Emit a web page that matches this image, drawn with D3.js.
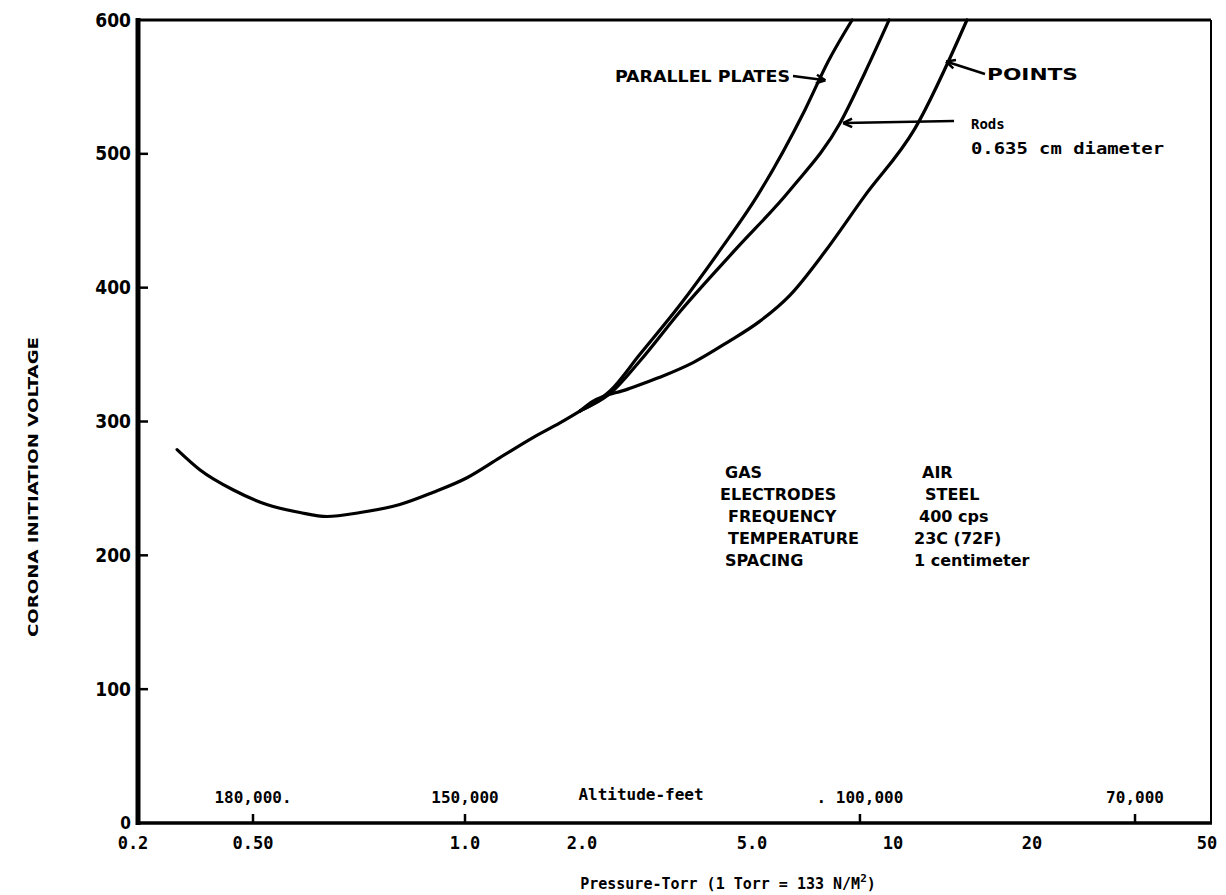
<!DOCTYPE html>
<html><head><meta charset="utf-8">
<script src="https://cdn.jsdelivr.net/npm/d3@7"></script>
<style>body{margin:0;background:#fff}</style>
</head><body><svg id="c" width="1226" height="895"></svg>
<script>
// ---- data ----
const pressureTicks = [0.2, 0.5, 1, 2, 5, 10, 20, 50];
const pressureTickLabels = ["0.2", "0.50", "1.0", "2.0", "5.0", "10", "20", "50"];
const voltageTicks = [0, 100, 200, 300, 400, 500, 600];
const altitudePressures = [0.5, 1.0, 8.5, 34.3];
const altitudeLabels = ["180,000.", "150,000", ". 100,000", "70,000"];

const commonP = [0.28, 0.333, 0.429, 0.523, 0.583, 0.637, 0.71, 0.808, 0.90, 1.012, 1.23, 1.496, 1.755, 1.98];
const commonV = [279, 264, 249, 238, 232, 229, 232, 238, 247, 258, 273, 288, 299, 308];
const platesP = [1.98, 2.33, 2.73, 3.39, 4.21, 5.12, 6.49, 7.27, 8.18];
const platesV = [308, 323, 350, 387, 428, 468, 533, 569, 600];
const rodsP = [1.98, 2.33, 2.73, 3.39, 4.56, 6.03, 7.71, 8.72, 9.81];
const rodsV = [308, 321, 345, 382, 428, 473, 523, 561, 600];
const pointsP = [1.98, 2.12, 2.55, 3.04, 3.64, 4.37, 5.2, 6.03, 7.16, 8.68, 11.16, 14.46];
const pointsV = [308, 315, 324, 333, 344, 359, 375, 394.5, 427, 468, 519, 600];

const infoKeys = ["GAS", "ELECTRODES", "FREQUENCY", "TEMPERATURE", "SPACING"];
const infoVals = ["AIR", "STEEL", "400 cps", "23C (72F)", "1 centimeter"];

// ---- scales ----
const svg = d3.select("#c");
const x = d3.scaleLog().domain(pressureTicks).range([133, 253, 465, 582, 752, 893, 1032, 1207]);
const y = d3.scaleLinear().domain([0, 600]).range([823, 20]);
const pts = (P, V) => P.map((p, i) => [p, V[i]]);
const line = d3.line().x(d => x(d[0])).y(d => y(d[1])).curve(d3.curveMonotoneX);

// frame
const x0 = x(0.2) + 5, x1 = x(50) + 4;
svg.append("line").attr("x1", x0).attr("x2", x1).attr("y1", y(600)).attr("y2", y(600))
  .attr("stroke", "#000").attr("stroke-width", 3);
svg.append("line").attr("x1", x1).attr("x2", x1).attr("y1", y(600)).attr("y2", y(0))
  .attr("stroke", "#000").attr("stroke-width", 2);

// y axis
const yAxis = svg.append("g").attr("transform", `translate(${x0},0)`);
yAxis.append("line").attr("y1", y(600) - 2).attr("y2", y(0) + 2).attr("stroke", "#000").attr("stroke-width", 5);
yAxis.selectAll("line.t").data(voltageTicks.filter(v => v > 0 && v < 600)).enter().append("line")
  .attr("class", "t").attr("x1", 0).attr("x2", 10).attr("y1", d => y(d)).attr("y2", d => y(d))
  .attr("stroke", "#000").attr("stroke-width", 2.5);
yAxis.selectAll("text").data(voltageTicks).enter().append("text")
  .attr("x", -7).attr("y", d => y(d)).attr("dy", "0.35em").attr("text-anchor", "end")
  .attr("font-family", "DejaVu Sans Condensed").attr("font-weight", "bold").attr("font-size", d => d === 0 ? 17 : 19)
  .text(d => d);

// x axis
const xAxis = svg.append("g");
xAxis.append("line").attr("x1", x0 - 2).attr("x2", x1 + 1).attr("y1", y(0)).attr("y2", y(0))
  .attr("stroke", "#000").attr("stroke-width", 3.5);
xAxis.selectAll("text.p").data(pressureTicks).enter().append("text").attr("class", "p")
  .attr("x", d => x(d)).attr("y", y(0) + 26).attr("text-anchor", "middle")
  .attr("font-family", "DejaVu Sans Mono").attr("font-weight", "bold").attr("font-size", 17)
  .text((d, i) => pressureTickLabels[i]);
xAxis.selectAll("line.a").data(altitudePressures).enter().append("line").attr("class", "a")
  .attr("x1", d => x(d)).attr("x2", d => x(d)).attr("y1", y(0)).attr("y2", y(0) - 9)
  .attr("stroke", "#000").attr("stroke-width", 2.5);
xAxis.selectAll("text.a").data(altitudePressures).enter().append("text").attr("class", "a")
  .attr("x", d => x(d)).attr("y", y(0) - 26).attr("dy", "0.35em").attr("text-anchor", "middle")
  .attr("font-family", "DejaVu Sans Mono").attr("font-weight", "bold").attr("font-size", 16)
  .text((d, i) => altitudeLabels[i]);
svg.append("text").attr("x", 641).attr("y", y(0) - 29).attr("dy", "0.35em").attr("text-anchor", "middle")
  .attr("font-family", "DejaVu Sans Mono").attr("font-weight", "bold").attr("font-size", 16)
  .text("Altitude-feet");
const xt = svg.append("text").attr("x", 728).attr("y", 889).attr("text-anchor", "middle")
  .attr("font-family", "DejaVu Sans Mono").attr("font-weight", "bold").attr("font-size", 15);
xt.append("tspan").text("Pressure-Torr (1 Torr = 133 N/M");
xt.append("tspan").attr("dy", -7).attr("font-size", 11).text("2");
xt.append("tspan").attr("dy", 7).text(")");

// y title
svg.append("text").attr("transform", "translate(38,487) rotate(-90)").attr("text-anchor", "middle")
  .attr("font-family", "DejaVu Sans Condensed").attr("font-weight", "bold").attr("font-size", 14)
  .attr("textLength", 300).attr("lengthAdjust", "spacingAndGlyphs")
  .text("CORONA INITIATION VOLTAGE");

// curves
const curves = [pts(commonP, commonV), pts(platesP, platesV), pts(rodsP, rodsV), pts(pointsP, pointsV)];
svg.selectAll("path.curve").data(curves).enter().append("path").attr("class", "curve")
  .attr("d", line).attr("fill", "none").attr("stroke", "#000").attr("stroke-width", 3.2)
  .attr("stroke-linecap", "round").attr("stroke-linejoin", "round");

// annotations
const ann = svg.append("g").attr("font-family", "DejaVu Sans Condensed").attr("font-weight", "bold");
ann.append("text").attr("x", 615).attr("y", 82).attr("font-size", 15).attr("textLength", 175)
  .attr("lengthAdjust", "spacingAndGlyphs").text("PARALLEL PLATES");
ann.append("text").attr("x", 987).attr("y", 80).attr("font-size", 16).attr("textLength", 91)
  .attr("lengthAdjust", "spacingAndGlyphs").text("POINTS");
ann.append("text").attr("x", 971).attr("y", 129).attr("font-size", 14).attr("font-family", "DejaVu Sans Mono").text("Rods");
ann.append("text").attr("x", 971).attr("y", 154).attr("font-size", 15).attr("font-family", "DejaVu Sans Mono")
  .attr("textLength", 193).attr("lengthAdjust", "spacingAndGlyphs").text("0.635 cm diameter");

const arrow = (xa, ya, xb, yb) => {
  svg.append("line").attr("x1", xa).attr("y1", ya).attr("x2", xb).attr("y2", yb).attr("stroke", "#000").attr("stroke-width", 2.5);
  const ang = Math.atan2(yb - ya, xb - xa);
  const L = 10, W = 0.45;
  svg.append("path").attr("d", `M${xb},${yb} L${xb - L * Math.cos(ang - W)},${yb - L * Math.sin(ang - W)} M${xb},${yb} L${xb - L * Math.cos(ang + W)},${yb - L * Math.sin(ang + W)}`)
    .attr("stroke", "#000").attr("stroke-width", 2.5).attr("fill", "none");
};
arrow(793, 76, x(7.1) + 2, y(555));
arrow(985, 74, x(12.9) + 2, y(569));
arrow(954, 121, x(7.71) + 3, y(523));

const info = svg.append("g").attr("font-family", "DejaVu Sans").attr("font-weight", "bold").attr("font-size", 16);
info.selectAll("text.k").data(infoKeys).enter().append("text").attr("class", "k")
  .attr("x", (d, i) => i === 0 || i === 4 ? 725 : (i === 1 ? 720 : 728)).attr("y", (d, i) => 478 + i * 22)
  .text(d => d);
info.selectAll("text.v").data(infoVals).enter().append("text").attr("class", "v")
  .attr("x", (d, i) => [922, 925, 919, 914, 914][i]).attr("y", (d, i) => 478 + i * 22)
  .text(d => d);
</script></body></html>
